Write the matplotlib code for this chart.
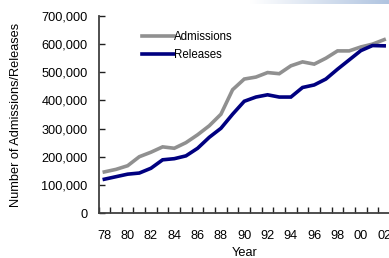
import numpy as np
import matplotlib.pyplot as plt
from matplotlib.ticker import FuncFormatter, MultipleLocator

# Annual admissions and releases, 1978-2002
years = list(range(1978, 2003))
admissions = [146000, 155000, 168000, 200000, 216000, 235000, 230000, 250000,
              278000, 310000, 351000, 438000, 476000, 483000, 499000, 495000,
              523000, 537000, 529000, 550000, 576000, 576000, 590000, 600000,
              616000]
releases = [120000, 129000, 138000, 142000, 159000, 189000, 193000, 203000,
            230000, 269000, 301000, 351000, 397000, 412000, 420000, 412000,
            412000, 446000, 455000, 476000, 511000, 544000, 577000, 595000,
            594000]
tick_labels = [f'{y % 100:02d}' for y in years[::2]]

plt.rcParams['font.family'] = ['Liberation Sans', 'DejaVu Sans']

W, H = 389, 258
fig = plt.figure(figsize=(W / 100, H / 100), dpi=100)

# faint blue band at the top right (slide background)
band = fig.add_axes([250 / W, 1 - 4 / H, 139 / W, 4 / H])
grad = np.linspace(0, 1, 256)[None, :, None]
white = np.array([1.0, 1.0, 1.0])
blue = np.array([176, 196, 224]) / 255
band.imshow(white + grad * (blue - white), aspect='auto')
band.axis('off')

ax = fig.add_axes([98.5 / W, 1 - 213 / H, 291.5 / W, 197 / H])
x = np.arange(len(years))
ax.plot(x, admissions, color='#909090', lw=2.6, label='Admissions',
        solid_joinstyle='miter')
ax.plot(x, releases, color='#000080', lw=2.6, label='Releases',
        solid_joinstyle='miter')

ax.set_xlim(-0.5, len(years) - 0.5)
ax.set_ylim(0, 700000)
ax.set_xticks(x[::2])
ax.set_xticklabels(tick_labels)
ax.xaxis.set_minor_locator(MultipleLocator(1, offset=0.5))
ax.tick_params(axis='x', which='major', length=0, pad=12, labelsize=9.2)
ax.tick_params(axis='x', which='minor', direction='in', length=4,
               width=1, color='#202020')
ax.yaxis.set_major_locator(MultipleLocator(100000))
ax.yaxis.set_major_formatter(FuncFormatter(lambda v, p: f'{int(v):,}'))
ax.tick_params(axis='y', direction='in', length=4, width=1,
               color='#202020', labelsize=9.2, pad=8)

for s in ['top', 'right']:
    ax.spines[s].set_visible(False)
for s in ['left', 'bottom']:
    ax.spines[s].set_color('#404040')
    ax.spines[s].set_linewidth(1.3)

ax.set_xlabel('Year', fontsize=9.2, labelpad=4)
ax.set_ylabel('Number of Admissions/Releases', fontsize=9.2, labelpad=14)

ax.legend(loc='upper left', bbox_to_anchor=(0.12, 0.965), frameon=False,
          fontsize=8.3, handlelength=2.8, handletextpad=0.0,
          labelspacing=0.55, borderaxespad=0.3)

fig.savefig('out.png', dpi=100)
